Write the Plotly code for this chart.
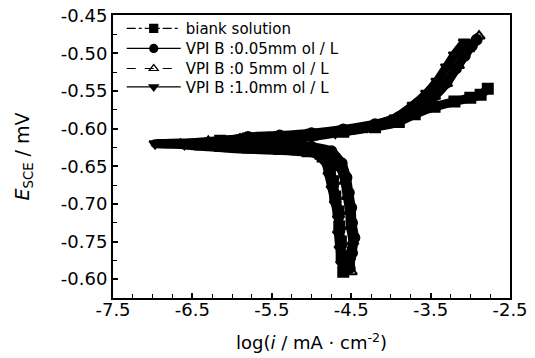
import plotly.graph_objects as go

# ---------------- data ----------------
series_names = ["biank solution", "VPI B :0.05mm ol / L",
                "VPI B :0 5mm ol / L", "VPI B :1.0mm ol / L"]

# each curve: cathodic end (bottom) -> corrosion potential (left) -> anodic end
blank_logi = [-4.60, -4.62, -4.63, -4.65, -4.66, -4.70, -4.73, -4.77, -4.86, -5.05,
              -5.40, -5.80, -6.15, -6.40,
              -6.15, -5.80, -5.40, -5.00, -4.60, -4.20, -3.90, -3.70, -3.45, -3.20,
              -3.00, -2.87, -2.78]
blank_E = [-0.790, -0.770, -0.750, -0.730, -0.710, -0.690, -0.670, -0.652, -0.637, -0.630,
           -0.627, -0.625, -0.623, -0.621,
           -0.616, -0.613, -0.611, -0.608, -0.604, -0.598, -0.591, -0.581, -0.571, -0.564,
           -0.559, -0.555, -0.547]

c005_logi = [-4.52, -4.49, -4.46, -4.49, -4.50, -4.53, -4.56, -4.62, -4.75, -5.00,
             -5.40, -5.80, -6.20,
             -5.80, -5.40, -5.00, -4.60, -4.20, -3.90, -3.65, -3.45, -3.30, -3.18,
             -3.07, -2.98, -2.92]
c005_E = [-0.785, -0.765, -0.745, -0.725, -0.705, -0.685, -0.665, -0.646, -0.630, -0.624,
          -0.621, -0.620, -0.619,
          -0.611, -0.609, -0.606, -0.601, -0.594, -0.585, -0.572, -0.556, -0.539, -0.520,
          -0.503, -0.490, -0.482]

c05_logi = [-4.50, -4.52, -4.48, -4.51, -4.52, -4.55, -4.58, -4.64, -4.78, -5.00,
            -5.40, -5.90, -6.30, -6.65,
            -6.30, -5.90, -5.40, -5.00, -4.60, -4.20, -3.90, -3.65, -3.45, -3.30,
            -3.15, -3.02, -2.89]
c05_E = [-0.790, -0.770, -0.750, -0.730, -0.710, -0.690, -0.670, -0.652, -0.638, -0.632,
         -0.629, -0.627, -0.624, -0.621,
         -0.617, -0.614, -0.612, -0.608, -0.603, -0.596, -0.587, -0.574, -0.557, -0.540,
         -0.516, -0.494, -0.477]

c10_logi = [-4.62, -4.64, -4.66, -4.66, -4.70, -4.74, -4.78, -4.82, -4.95, -5.20,
            -5.60, -6.10, -6.60, -6.97,
            -6.60, -6.10, -5.60, -5.10, -4.70, -4.30, -3.95, -3.72, -3.55, -3.42,
            -3.30, -3.20, -3.075]
c10_E = [-0.780, -0.760, -0.740, -0.720, -0.700, -0.680, -0.662, -0.646, -0.633, -0.627,
         -0.624, -0.623, -0.621, -0.620,
         -0.619, -0.618, -0.616, -0.612, -0.606, -0.598, -0.586, -0.569, -0.553, -0.537,
         -0.518, -0.502, -0.485]

x_tickvals = [-7.5, -6.5, -5.5, -4.5, -3.5, -2.5]
x_ticktext = ["-7.5", "-6.5", "-5.5", "-4.5", "-3.5", "-2.5"]
y_tickvals = [-0.45, -0.50, -0.55, -0.60, -0.65, -0.70, -0.75, -0.80]
y_ticktext = ["-0.45", "-0.50", "-0.55", "-0.60", "-0.65", "-0.70", "-0.75", "-0.60"]

# ---------------- styling ----------------
xs = [blank_logi, c005_logi, c05_logi, c10_logi]
ys = [blank_E, c005_E, c05_E, c10_E]
symbols = ["square", "circle", "triangle-up-open", "triangle-down"]
dashes = ["dashdot", "solid", "dash", "solid"]
legend_ids = ["legend", "legend2", "legend3", "legend4"]
legend_y = [0.952, 0.881, 0.810, 0.745]

fig = go.Figure()
for x, y, sym in zip(xs, ys, symbols):
    fig.add_trace(go.Scatter(
        x=x, y=y, mode="lines+markers", showlegend=False,
        line=dict(color="black", width=9, shape="spline", smoothing=0.6),
        marker=dict(symbol=sym, size=10, color="black", line=dict(color="black", width=2)),
    ))

for name, sym, dsh, lid in zip(series_names, symbols, dashes, legend_ids):
    fig.add_trace(go.Scatter(
        x=[None], y=[None], mode="lines+markers", name=name, legend=lid,
        line=dict(color="black", width=1.2, dash=dsh),
        marker=dict(symbol=sym, size=8, color="black", line=dict(color="black", width=1.2)),
    ))

font_family = "DejaVu Sans"
layout_legends = {}
for lid, ly in zip(legend_ids, legend_y):
    layout_legends[lid] = dict(
        x=0.022, y=ly, xanchor="left", yanchor="middle", itemwidth=54,
        bgcolor="rgba(0,0,0,0)", borderwidth=0,
        font=dict(family=font_family, size=15, color="black"),
    )

fig.update_layout(
    width=535, height=358,
    margin=dict(l=113, r=25, t=13, b=60),
    plot_bgcolor="white", paper_bgcolor="white",
    font=dict(family=font_family, color="black"),
    **layout_legends,
)

fig.update_xaxes(
    range=[-7.5, -2.5], showline=True, mirror=True, linecolor="black", linewidth=2,
    automargin=False,
    ticks="inside", ticklen=5, tickwidth=1.5, tickcolor="black",
    tickvals=x_tickvals, ticktext=x_ticktext, ticklabelstandoff=-6,
    tickfont=dict(family=font_family, size=18, color="black"),
    minor=dict(ticks="inside", ticklen=4, tickwidth=1.2, tickcolor="black", dtick=0.25, tick0=-7.5),
    showgrid=False, zeroline=False,
    title=dict(text="log(<i>i</i> / mA · cm<sup>-2</sup>)",
               font=dict(family=font_family, size=18, color="black"), standoff=18),
)
fig.update_yaxes(
    range=[-0.825, -0.449], showline=True, mirror=True, linecolor="black", linewidth=2,
    automargin=False,
    ticks="inside", ticklen=5, tickwidth=1.5, tickcolor="black",
    tickvals=y_tickvals, ticktext=y_ticktext,
    tickfont=dict(family=font_family, size=18, color="black"),
    minor=dict(ticks="inside", ticklen=4, tickwidth=1.2, tickcolor="black", dtick=0.025, tick0=-0.45),
    showgrid=False, zeroline=False,
    title=dict(text="<i>E</i><sub>SCE</sub> / mV",
               font=dict(family=font_family, size=19, color="black"), standoff=26),
)

fig.write_html("out.html")
